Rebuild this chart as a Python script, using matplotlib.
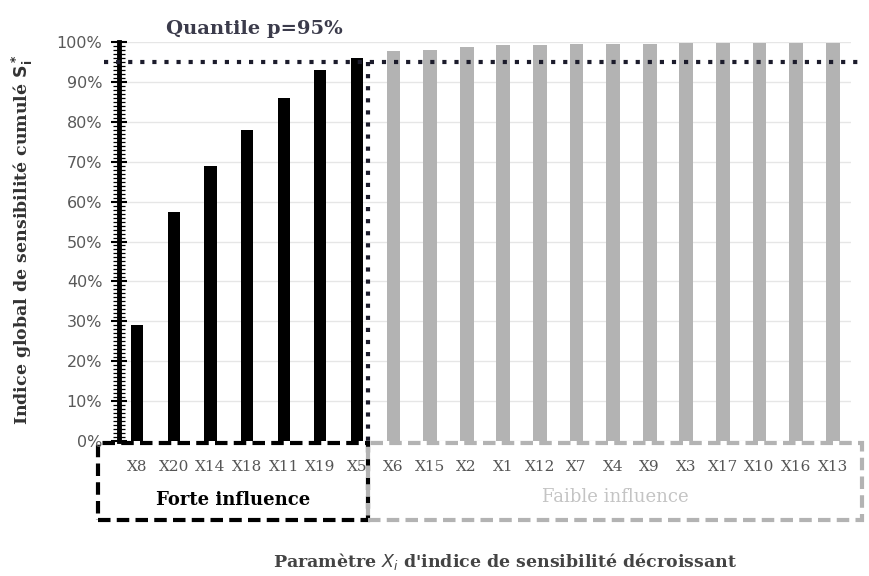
import matplotlib
matplotlib.use("Agg")
import matplotlib.pyplot as plt
from matplotlib.patches import Rectangle
import matplotlib.transforms as mtransforms
from matplotlib.ticker import MultipleLocator, PercentFormatter

params = ["X8", "X20", "X14", "X18", "X11", "X19", "X5",
          "X6", "X15", "X2", "X1", "X12", "X7", "X4", "X9", "X3", "X17", "X10", "X16", "X13"]
cumul = [29, 57.5, 69, 78, 86, 93, 96,
         97.8, 98, 98.8, 99.2, 99.3, 99.4, 99.5, 99.6, 99.7, 99.7, 99.8, 99.8, 99.8]
n_strong = 7
quantile = 95

fig = plt.figure(figsize=(8.7, 5.76), dpi=100)
ax = fig.add_axes([119/870, 1-441/576, (851-119)/870, (441-42)/576])

x = list(range(len(params)))
colors = ["black"]*n_strong + ["#b3b3b3"]*(len(params)-n_strong)
widths = [0.33]*n_strong + [0.38]*(len(params)-n_strong)
ax.bar(x, cumul, width=widths, color=colors, zorder=3)

ax.set_xlim(-0.5, len(params)-0.5)
ax.set_ylim(0, 100)
ax.yaxis.set_major_locator(MultipleLocator(10))
ax.yaxis.set_minor_locator(MultipleLocator(1))
ax.yaxis.set_major_formatter(PercentFormatter(decimals=0))
ax.grid(axis="y", color="#e6e6e6", lw=1, zorder=0)
for s in ["top", "right", "bottom"]:
    ax.spines[s].set_visible(False)
ax.spines["left"].set_linewidth(3.5)
ax.tick_params(axis="y", which="major", direction="inout", length=12, width=1.5,
               labelsize=11.5, labelcolor="#595959", pad=6)
ax.tick_params(axis="y", which="minor", direction="inout", length=8, width=0.9)
for lab in ax.get_yticklabels():
    lab.set_family("DejaVu Sans")

ax.set_xticks(x)
ax.set_xticklabels(params, family="DejaVu Serif", fontsize=11, color="#555555")
ax.tick_params(axis="x", length=0, pad=14)

# quantile lines
trans_dx = mtransforms.blended_transform_factory(ax.transData, ax.transAxes)
divider = n_strong - 0.7
dot = (0, (1, 1.9))
ax.plot([-0.9, len(params)-0.2], [quantile, quantile], ls=dot, lw=3,
        color="#1c1c2c", clip_on=False, zorder=4, dash_capstyle="butt")
ax.plot([divider, divider], [quantile, 0], ls=dot, lw=3,
        color="#1c1c2c", clip_on=False, zorder=4, dash_capstyle="butt")

# boxes
ax.add_patch(Rectangle((-1.07, -0.198), divider + 1.07, 0.193, transform=trans_dx,
                       fill=False, ls=(0, (3, 1.5)), lw=3, edgecolor="black", clip_on=False))
ax.add_patch(Rectangle((divider, -0.198), len(params)-0.2 - divider, 0.193, transform=trans_dx,
                       fill=False, ls=(0, (3, 1.5)), lw=3, edgecolor="#b3b3b3", clip_on=False))

ax.text((divider - 1.07)/2, -0.148, "Forte influence", transform=trans_dx, ha="center", va="center",
        family="DejaVu Serif", fontweight="bold", fontsize=13, color="black")
ax.text((divider + len(params)-0.2)/2, -0.14, "Faible influence", transform=trans_dx, ha="center",
        va="center", family="DejaVu Serif", fontsize=13, color="#c4c4c4")

ax.text(3.2, 1.01, "Quantile p=95%", transform=trans_dx, ha="center", va="bottom",
        family="DejaVu Serif", fontweight="bold", fontsize=14, color="#3b3b4b")

fig.text(22/870, 1-240/576, r"Indice global de sensibilité cumulé $\mathbf{S_i^*}$", rotation=90,
         ha="center", va="center", family="DejaVu Serif", fontweight="bold", fontsize=12.5,
         color="#333333")
fig.text(505/870, 1-562/576, r"Paramètre $\mathit{X_i}$ d'indice de sensibilité décroissant",
         ha="center", va="center", family="DejaVu Serif", fontweight="bold", fontsize=12.5,
         color="#444444")

fig.savefig("out.png", dpi=100)
